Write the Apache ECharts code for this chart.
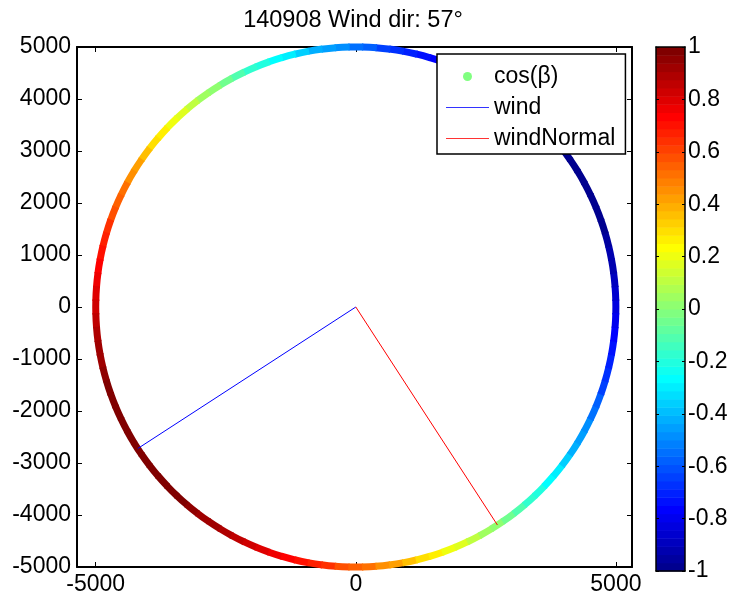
<!DOCTYPE html>
<html><head><meta charset="utf-8">
<script src="https://cdn.jsdelivr.net/npm/echarts@6/dist/echarts.min.js"></script>
<style>html,body{margin:0;padding:0;background:#fff}#c{width:731px;height:596px}</style>
</head><body><div id="c"></div>
<script>
// ---- data ----
const titleText = '140908 Wind dir: 57\u00B0';
const ringRadius = 5000;
const angleDeg = [0,3,6,9,12,15,18,21,24,27,30,33,36,39,42,45,48,51,54,57,60,63,66,69,72,75,78,81,84,87,
  90,93,96,99,102,105,108,111,114,117,120,123,126,129,132,135,138,141,144,147,150,153,156,159,162,165,168,171,174,177,
  180,183,186,189,192,195,198,201,204,207,210,213,216,219,222,225,228,231,234,237,240,243,246,249,252,255,258,261,264,267,
  270,273,276,279,282,285,288,291,294,297,300,303,306,309,312,315,318,321,324,327,330,333,336,339,342,345,348,351,354,357];
const cosBeta = [-0.84,-0.87,-0.89,-0.91,-0.93,-0.95,-0.97,-0.98,-0.99,-0.99,-1.00,-1.00,-1.00,-0.99,-0.99,-0.98,-0.97,-0.95,-0.93,-0.91,
  -0.89,-0.87,-0.84,-0.81,-0.78,-0.74,-0.71,-0.67,-0.63,-0.59,-0.54,-0.50,-0.45,-0.41,-0.36,-0.31,-0.26,-0.21,-0.16,-0.10,
  -0.05,0.00,0.05,0.10,0.16,0.21,0.26,0.31,0.36,0.41,0.45,0.50,0.54,0.59,0.63,0.67,0.71,0.74,0.78,0.81,
  0.84,0.87,0.89,0.91,0.93,0.95,0.97,0.98,0.99,0.99,1.00,1.00,1.00,0.99,0.99,0.98,0.97,0.95,0.93,0.91,
  0.89,0.87,0.84,0.81,0.78,0.74,0.71,0.67,0.63,0.59,0.54,0.50,0.45,0.41,0.36,0.31,0.26,0.21,0.16,0.10,
  0.05,0.00,-0.05,-0.10,-0.16,-0.21,-0.26,-0.31,-0.36,-0.41,-0.45,-0.50,-0.54,-0.59,-0.63,-0.67,-0.71,-0.74,-0.78,-0.81];
const windLine = [[0,0],[-4193,-2723]];
const windNormalLine = [[0,0],[2723,-4193]];
const xTicks = [-5000,0,5000];
const yTicks = [-5000,-4000,-3000,-2000,-1000,0,1000,2000,3000,4000,5000];
const cbTicks = [-1,-0.8,-0.6,-0.4,-0.2,0,0.2,0.4,0.6,0.8,1];

// ---- jet(64) colormap ----
function jet64(k){
  const r = k<=24?0: k<=40?(k-24)/16 : k<=55?1 : (72-k)/16;
  const g = k<=8?0 : k<=24?(k-8)/16 : k<=39?1 : k<=55?(56-k)/16 : 0;
  const b = k<=8?(k+8)/16 : k<=23?1 : k<=39?(40-k)/16 : 0;
  return 'rgb(' + Math.round(r*255) + ',' + Math.round(g*255) + ',' + Math.round(b*255) + ')';
}
const pieces = [];
for (let k=0;k<64;k++){
  const p = {gte: -1 + k/32, color: jet64(k+1)};
  if (k===63) p.lte = 1; else p.lt = -1 + (k+1)/32;
  pieces.push(p);
}
const cbLevels = [];
for (let k=0;k<64;k++) cbLevels.push([0.5, -1 + (k+0.5)/32]);

const FONT = '"Liberation Sans", Arial, sans-serif';
const black = '#000';
const angleStep = angleDeg[1]-angleDeg[0];
const linePath = 'path://M0 0H36V1H0Z';
const plainNum = v => String(Math.round(v * 1000) / 1000);

const chart = echarts.init(document.getElementById('c'), null, {renderer:'canvas'});
chart.setOption({
  animation: false,
  backgroundColor: '#fff',
  textStyle: {fontFamily: FONT, color: black},
  title: {
    text: titleText, left: 348, top: 4, textAlign: 'center',
    textStyle: {fontFamily: FONT, fontSize: 23.5, fontWeight: 'normal', color: black}
  },
  legend: {
    orient: 'vertical', left: 437, top: 54,
    padding: [11, 10, 4, 9], itemGap: 8, itemWidth: 43, itemHeight: 9,
    borderColor: black, borderWidth: 1.5, backgroundColor: '#fff',
    selectedMode: false,
    textStyle: {fontFamily: FONT, fontSize: 23, color: black},
    itemStyle: {borderWidth: 0},
    data: [
      {name: 'cos(\u03B2)', icon: 'circle', itemStyle: {color: '#80ff80'}},
      {name: 'wind', icon: linePath, itemStyle: {color: '#3333ff'}},
      {name: 'windNormal', icon: linePath, itemStyle: {color: '#ff3333'}}
    ]
  },
  grid: [
    {left: 77, top: 47, width: 555, height: 521},
    {left: 656, top: 47, width: 29, height: 524}
  ],
  xAxis: [
    {gridIndex: 0, type: 'value', position: 'bottom', min: -5360, max: 5310,
     axisLine: {show: true, onZero: false, lineStyle: {color: black, width: 2}},
     axisTick: {show: true, inside: true, length: 5, customValues: xTicks, lineStyle: {color: black}},
     axisLabel: {show: true, customValues: xTicks, fontSize: 23, margin: 6, color: black, fontFamily: FONT, formatter: plainNum},
     splitLine: {show: false}},
    {gridIndex: 0, type: 'value', position: 'top', min: -5360, max: 5310,
     axisLine: {show: true, onZero: false, lineStyle: {color: black, width: 2}},
     axisTick: {show: true, inside: true, length: 5, customValues: xTicks, lineStyle: {color: black}},
     axisLabel: {show: false}, splitLine: {show: false}},
    {gridIndex: 1, type: 'value', position: 'bottom', min: 0, max: 1, z: 5,
     axisLine: {show: true, onZero: false, lineStyle: {color: black, width: 1.5}},
     axisTick: {show: false}, axisLabel: {show: false}, splitLine: {show: false}},
    {gridIndex: 1, type: 'value', position: 'top', min: 0, max: 1, z: 5,
     axisLine: {show: true, onZero: false, lineStyle: {color: black, width: 1.5}},
     axisTick: {show: false}, axisLabel: {show: false}, splitLine: {show: false}}
  ],
  yAxis: [
    {gridIndex: 0, type: 'value', position: 'left', min: -5000, max: 5000, interval: 1000,
     axisLine: {show: true, onZero: false, lineStyle: {color: black, width: 2}},
     axisTick: {show: true, inside: true, length: 5, customValues: yTicks, lineStyle: {color: black}},
     axisLabel: {show: true, customValues: yTicks, fontSize: 23, margin: 6, color: black, fontFamily: FONT, formatter: plainNum},
     splitLine: {show: false}},
    {gridIndex: 0, type: 'value', position: 'right', min: -5000, max: 5000, interval: 1000,
     axisLine: {show: true, onZero: false, lineStyle: {color: black, width: 2}},
     axisTick: {show: true, inside: true, length: 5, customValues: yTicks, lineStyle: {color: black}},
     axisLabel: {show: false}, splitLine: {show: false}},
    {gridIndex: 1, type: 'value', position: 'left', min: -1, max: 1, interval: 0.2, z: 5,
     axisLine: {show: true, onZero: false, lineStyle: {color: black, width: 1.5}},
     axisTick: {show: true, inside: true, length: 3, customValues: cbTicks, lineStyle: {color: black}},
     axisLabel: {show: false}, splitLine: {show: false}},
    {gridIndex: 1, type: 'value', position: 'right', min: -1, max: 1, interval: 0.2, z: 5,
     axisLine: {show: true, onZero: false, lineStyle: {color: black, width: 1.5}},
     axisTick: {show: true, inside: true, length: 3, customValues: cbTicks, lineStyle: {color: black}},
     axisLabel: {show: true, customValues: cbTicks, fontSize: 23, margin: 3, color: black, fontFamily: FONT, formatter: plainNum},
     splitLine: {show: false}}
  ],
  visualMap: {
    type: 'piecewise', show: false, seriesIndex: [0, 3], dimension: 1, pieces: pieces
  },
  series: [
    {
      name: 'cos(\u03B2)', type: 'custom', xAxisIndex: 0, yAxisIndex: 0, z: 2,
      data: angleDeg.map((a, i) => [a, cosBeta[i]]),
      renderItem: function (params, api) {
        const a = api.value(0);
        const c = api.coord([0, 0]);
        const r = api.coord([ringRadius, 0])[0] - c[0];
        const h = angleStep / 2 + 0.15;
        return {
          type: 'sector',
          shape: {cx: c[0], cy: c[1], r0: r - 3.5, r: r + 3.5,
                  startAngle: -(a + h) * Math.PI / 180, endAngle: -(a - h) * Math.PI / 180, clockwise: true},
          style: {fill: api.visual('color')}
        };
      }
    },
    {
      name: 'wind', type: 'line', xAxisIndex: 0, yAxisIndex: 0, z: 3,
      data: windLine, symbol: 'none', color: '#0000ff',
      lineStyle: {color: '#0000ff', width: 1}
    },
    {
      name: 'windNormal', type: 'line', xAxisIndex: 0, yAxisIndex: 0, z: 3,
      data: windNormalLine, symbol: 'none', color: '#ff0000',
      lineStyle: {color: '#ff0000', width: 1}
    },
    {
      type: 'custom', xAxisIndex: 2, yAxisIndex: 2, z: 2,
      data: cbLevels,
      renderItem: function (params, api) {
        const v = api.value(1);
        const p0 = api.coord([0, v - 1/64]);
        const p1 = api.coord([1, v + 1/64]);
        return {
          type: 'rect',
          shape: {x: p0[0], y: p1[1], width: p1[0] - p0[0], height: p0[1] - p1[1] + 0.5},
          style: {fill: api.visual('color')}
        };
      }
    }
  ]
});
</script>
</body></html>
